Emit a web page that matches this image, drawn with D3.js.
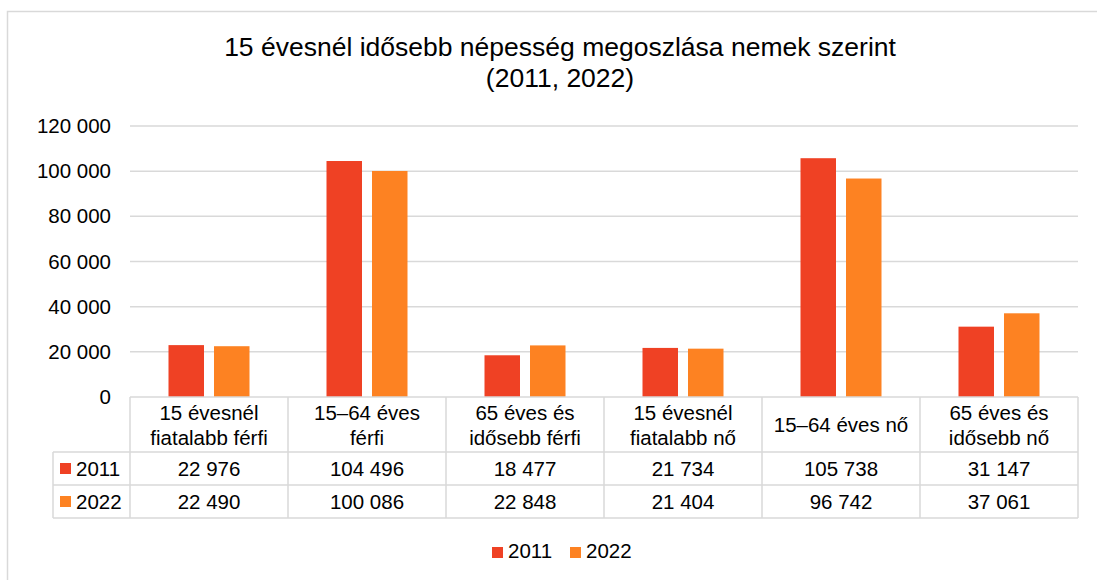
<!DOCTYPE html>
<html>
<head>
<meta charset="utf-8">
<script src="https://cdn.jsdelivr.net/npm/d3@7"></script>
<style>
    body { margin: 0; background: #fff; }
    svg text { font-family: "Liberation Sans", Arial, sans-serif; fill: #000; }
</style>
</head>
<body>
<svg id="chart" width="1097" height="580"></svg>
<script>
// chart data
var categories = [
    ["15 évesnél", "fiatalabb férfi"],
    ["15–64 éves", "férfi"],
    ["65 éves és", "idősebb férfi"],
    ["15 évesnél", "fiatalabb nő"],
    ["15–64 éves nő"],
    ["65 éves és", "idősebb nő"]
];
var seriesNames = ["2011", "2022"];
var values2011 = [22976, 104496, 18477, 21734, 105738, 31147];
var values2022 = [22490, 100086, 22848, 21404, 96742, 37061];
var yTicks = [0, 20000, 40000, 60000, 80000, 100000, 120000];
var colors = ["#ef4124", "#fd8222"];
var titleLines = ["15 évesnél idősebb népesség megoszlása nemek szerint", "(2011, 2022)"];

var seriesValues = [values2011, values2022];
var grid = "#d9d9d9";
var fmt = d3.formatLocale({ decimal: ",", thousands: " ", grouping: [3] }).format(",d");

var svg = d3.select("#chart");

// outer chart border (runs off the right and bottom edge)
svg.append("rect")
    .attr("x", 7.5).attr("y", 11.5)
    .attr("width", 1200).attr("height", 700)
    .attr("fill", "none").attr("stroke", grid).attr("stroke-width", 1.5);

// title
svg.selectAll(".title").data(titleLines).enter().append("text")
    .attr("class", "title")
    .attr("x", 560)
    .attr("y", function(d, i) { return 56 + i * 31; })
    .attr("text-anchor", "middle")
    .style("font-size", "26.5px")
    .text(function(d) { return d; });

var plotLeft = 130, plotRight = 1078, plotTop = 126, plotBottom = 397;

var x = d3.scaleBand().domain(d3.range(categories.length)).range([plotLeft, plotRight]);
var xs = d3.scaleBand().domain(seriesNames).range([0, x.bandwidth()])
    .paddingInner(0.22).paddingOuter(0.846);
var y = d3.scaleLinear().domain([0, 120000]).range([plotBottom, plotTop]);

// gridlines
svg.append("g").selectAll("line").data(yTicks.filter(function(d) { return d > 0; })).enter().append("line")
    .attr("x1", plotLeft).attr("x2", plotRight)
    .attr("y1", function(d) { return y(d); }).attr("y2", function(d) { return y(d); })
    .attr("stroke", grid).attr("stroke-width", 1.5);

// y axis labels
var yAxis = d3.axisLeft(y).tickValues(yTicks).tickSize(0).tickPadding(0).tickFormat(fmt);
var ya = svg.append("g").attr("transform", "translate(111,0)").call(yAxis);
ya.select(".domain").remove();
ya.selectAll("text")
    .style("font-family", "'Liberation Sans', Arial, sans-serif")
    .style("font-size", "20.5px").attr("fill", "#000");

// bars
seriesNames.forEach(function(s, si) {
    svg.append("g").selectAll("rect").data(seriesValues[si]).enter().append("rect")
        .attr("x", function(d, i) { return x(i) + xs(s); })
        .attr("y", function(d) { return y(d); })
        .attr("width", xs.bandwidth())
        .attr("height", function(d) { return y(0) - y(d); })
        .attr("fill", colors[si]);
});

// data table
var tLeft = 53, headBottom = 452, rowH = 33;
var tbl = svg.append("g").attr("stroke", grid).attr("stroke-width", 1.5).attr("fill", "none");
tbl.append("line").attr("x1", plotLeft).attr("x2", plotRight).attr("y1", plotBottom).attr("y2", plotBottom);
for (var r = 0; r <= seriesNames.length; r++) {
    tbl.append("line").attr("x1", tLeft).attr("x2", plotRight)
        .attr("y1", headBottom + r * rowH).attr("y2", headBottom + r * rowH);
}
tbl.append("line").attr("x1", tLeft).attr("x2", tLeft)
    .attr("y1", headBottom).attr("y2", headBottom + seriesNames.length * rowH);
d3.range(categories.length + 1).forEach(function(i) {
    var xx = i < categories.length ? x(i) : plotRight;
    tbl.append("line").attr("x1", xx).attr("x2", xx)
        .attr("y1", plotBottom).attr("y2", headBottom + seriesNames.length * rowH);
});

// header labels
categories.forEach(function(lines, i) {
    var cx = x(i) + x.bandwidth() / 2;
    var y0 = lines.length === 1 ? 432 : 420;
    lines.forEach(function(l, li) {
        svg.append("text")
            .attr("x", cx).attr("y", y0 + li * 25)
            .attr("text-anchor", "middle")
            .style("font-size", "20.5px")
            .text(l);
    });
});

// value rows
seriesNames.forEach(function(s, si) {
    var rowY = headBottom + si * rowH + rowH / 2 + 7;
    svg.append("rect").attr("x", 60).attr("y", rowY - 12.5).attr("width", 11).attr("height", 11)
        .attr("fill", colors[si]);
    svg.append("text").attr("x", 76).attr("y", rowY).style("font-size", "20.5px").text(s);
    svg.append("g").selectAll("text").data(seriesValues[si]).enter().append("text")
        .attr("x", function(d, i) { return x(i) + x.bandwidth() / 2; })
        .attr("y", rowY)
        .attr("text-anchor", "middle")
        .style("font-size", "20.5px")
        .text(function(d) { return fmt(d); });
});

// legend
var lx = [492, 570];
seriesNames.forEach(function(s, si) {
    svg.append("rect").attr("x", lx[si]).attr("y", 547).attr("width", 11).attr("height", 11)
        .attr("fill", colors[si]);
    svg.append("text").attr("x", lx[si] + 16).attr("y", 558).style("font-size", "20.5px").text(s);
});
</script>
</body>
</html>
